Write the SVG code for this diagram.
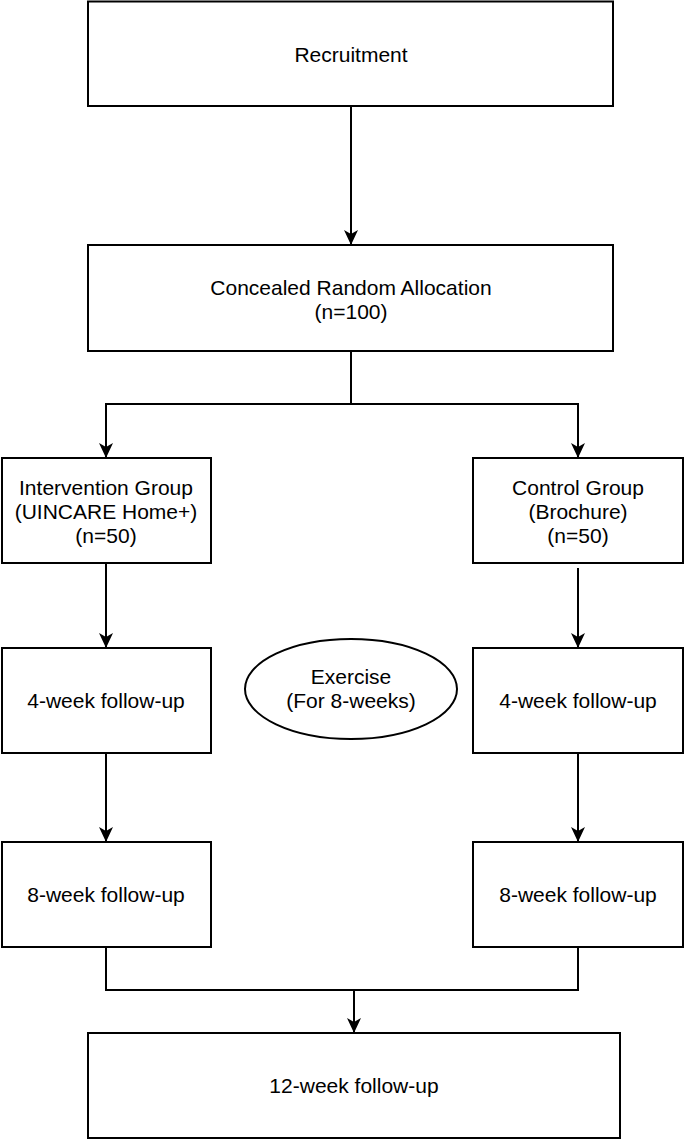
<svg xmlns="http://www.w3.org/2000/svg" width="685" height="1140" viewBox="0 0 685 1140">
  <defs>
    <marker id="arrow" viewBox="0 0 15 14" refX="15" refY="7" markerWidth="15" markerHeight="14" markerUnits="userSpaceOnUse" orient="auto">
      <path d="M0,0 L15,7 L0,14 L4,7 Z" fill="#000"/>
    </marker>
    <style>
      .box { fill: #fff; stroke: #000; stroke-width: 2; }
      .conn { fill: none; stroke: #000; stroke-width: 2; }
      .lbl { font-family: "Liberation Sans", Arial, sans-serif; font-size: 21px; fill: #000; text-anchor: middle; }
    </style>
  </defs>
  <rect width="685" height="1140" fill="#fff"/>

  <g id="connectors">
    <path class="conn" d="M351,106 L351,245" marker-end="url(#arrow)"/>
    <path class="conn" d="M351,351 L351,404 L106,404 L106,458" marker-end="url(#arrow)"/>
    <path class="conn" d="M351,404 L578,404 L578,458" marker-end="url(#arrow)"/>
    <path class="conn" d="M106,563 L106,648" marker-end="url(#arrow)"/>
    <path class="conn" d="M578,568 L578,648" marker-end="url(#arrow)"/>
    <path class="conn" d="M106,753 L106,842" marker-end="url(#arrow)"/>
    <path class="conn" d="M578,753 L578,842" marker-end="url(#arrow)"/>
    <path class="conn" d="M106,947 L106,990 L578,990 L578,947"/>
    <path class="conn" d="M354,990 L354,1033" marker-end="url(#arrow)"/>
  </g>

  <g id="recruitment">
    <rect class="box" x="88" y="1.5" width="525" height="104.5"/>
    <text class="lbl" x="351" y="62">Recruitment</text>
  </g>

  <g id="allocation">
    <rect class="box" x="88" y="245" width="525" height="106"/>
    <text class="lbl" x="351" y="295">Concealed Random Allocation</text>
    <text class="lbl" x="351" y="319">(n=100)</text>
  </g>

  <g id="intervention">
    <rect class="box" x="2" y="458" width="209" height="105"/>
    <text class="lbl" x="106" y="495">Intervention Group</text>
    <text class="lbl" x="106" y="519">(UINCARE Home+)</text>
    <text class="lbl" x="106" y="543">(n=50)</text>
  </g>

  <g id="control">
    <rect class="box" x="473" y="458" width="210" height="105"/>
    <text class="lbl" x="578" y="495">Control Group</text>
    <text class="lbl" x="578" y="519">(Brochure)</text>
    <text class="lbl" x="578" y="543">(n=50)</text>
  </g>

  <g id="int-4week">
    <rect class="box" x="2" y="648" width="209" height="105"/>
    <text class="lbl" x="106" y="708">4-week follow-up</text>
  </g>

  <g id="ctl-4week">
    <rect class="box" x="473" y="648" width="210" height="105"/>
    <text class="lbl" x="578" y="708">4-week follow-up</text>
  </g>

  <g id="exercise">
    <ellipse class="box" cx="351" cy="689" rx="106" ry="50"/>
    <text class="lbl" x="351" y="684">Exercise</text>
    <text class="lbl" x="351" y="708">(For 8-weeks)</text>
  </g>

  <g id="int-8week">
    <rect class="box" x="2" y="842" width="209" height="105"/>
    <text class="lbl" x="106" y="902">8-week follow-up</text>
  </g>

  <g id="ctl-8week">
    <rect class="box" x="473" y="842" width="210" height="105"/>
    <text class="lbl" x="578" y="902">8-week follow-up</text>
  </g>

  <g id="week12">
    <rect class="box" x="88" y="1033" width="532" height="105"/>
    <text class="lbl" x="354" y="1093">12-week follow-up</text>
  </g>
</svg>
